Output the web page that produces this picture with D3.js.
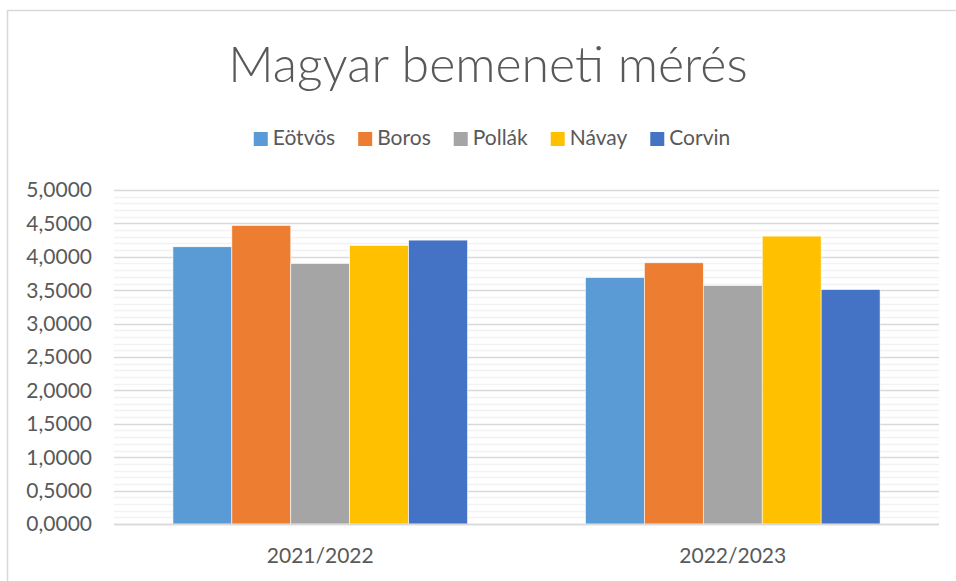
<!DOCTYPE html>
<html><head><meta charset="utf-8">
<script src="https://cdn.jsdelivr.net/npm/d3@7"></script>
<style>body{margin:0;background:#fff}svg{display:block}text{font-family:Lato,"Open Sans",sans-serif}</style>
</head><body><svg id="c" width="956" height="581"></svg>
<script>
const title = "Magyar bemeneti mérés";
const categories = ["2021/2022", "2022/2023"];
const seriesNames = ["Eötvös", "Boros", "Pollák", "Návay", "Corvin"];
const seriesColors = ["#5b9bd5", "#ed7d31", "#a5a5a5", "#ffc000", "#4472c4"];
const values = {
  "Eötvös": [4.15, 3.69],
  "Boros":  [4.47, 3.91],
  "Pollák": [3.90, 3.57],
  "Návay":  [4.17, 4.31],
  "Corvin": [4.25, 3.51]
};
const yTicks = [0, 0.5, 1, 1.5, 2, 2.5, 3, 3.5, 4, 4.5, 5];

const svg = d3.select("#c");
const M = {left: 114, right: 939, top: 190, bottom: 524};
svg.append("rect").attr("x", 7.5).attr("y", 10.5).attr("width", 970).attr("height", 600)
  .attr("fill", "none").attr("stroke", "#d9d9d9").attr("stroke-width", 1.5);

const y = d3.scaleLinear().domain([0, 5]).range([M.bottom, M.top]);
const x0 = d3.scaleBand().domain(categories).range([M.left, M.right]).paddingInner(2/7).paddingOuter(1/7);
const x1 = d3.scaleBand().domain(seriesNames).range([0, x0.bandwidth()]);

// minor gridlines
const minor = d3.range(0, 51).map(d => d / 10).filter(d => Math.round(d * 10) % 5 !== 0);
svg.append("g").selectAll("line").data(minor).join("line")
  .attr("x1", M.left).attr("x2", M.right)
  .attr("y1", d => Math.round(y(d)) + 0.5).attr("y2", d => Math.round(y(d)) + 0.5)
  .attr("stroke", "#f2f2f2").attr("stroke-width", 1.5);
// major gridlines
svg.append("g").selectAll("line").data(yTicks).join("line")
  .attr("x1", M.left).attr("x2", M.right)
  .attr("y1", d => Math.round(y(d)) + 0.5).attr("y2", d => Math.round(y(d)) + 0.5)
  .attr("stroke", "#d9d9d9").attr("stroke-width", 1.5);

// bars
const g = svg.append("g");
categories.forEach((c, ci) => {
  g.append("g").attr("transform", `translate(${x0(c)},0)`)
    .selectAll("rect").data(seriesNames).join("rect")
    .attr("x", s => x1(s)).attr("width", x1.bandwidth())
    .attr("y", s => y(values[s][ci])).attr("height", s => y(0) - y(values[s][ci]))
    .attr("fill", (s, i) => seriesColors[i])
    .attr("stroke", "#fff").attr("stroke-width", 0.6);
});
// baseline
svg.append("line").attr("x1", M.left).attr("x2", M.right)
  .attr("y1", y(0) + 0.5).attr("y2", y(0) + 0.5).attr("stroke", "#d9d9d9").attr("stroke-width", 1.5);

// y axis labels
const fmt = d => d.toFixed(4).replace(".", ",");
svg.append("g").selectAll("text").data(yTicks).join("text")
  .attr("x", 92).attr("y", d => y(d)).attr("dy", "0.35em")
  .attr("text-anchor", "end").attr("font-size", 21).attr("fill", "#595959")
  .text(fmt);

// x axis labels
svg.append("g").selectAll("text").data(categories).join("text")
  .attr("x", d => x0(d) + x0.bandwidth() / 2).attr("y", 563)
  .attr("text-anchor", "middle").attr("font-size", 21).attr("fill", "#595959")
  .text(d => d);

// title
svg.append("text").attr("x", 488).attr("y", 82).attr("text-anchor", "middle")
  .attr("font-size", 50).attr("font-weight", 300).attr("fill", "#595959").text(title);

// legend
const lg = svg.append("g");
let cx = 0;
seriesNames.forEach((s, i) => {
  const it = lg.append("g");
  it.append("rect").attr("x", 0).attr("y", 132).attr("width", 14).attr("height", 14).attr("fill", seriesColors[i]);
  const t = it.append("text").attr("x", 19).attr("y", 145).attr("font-size", 21).attr("fill", "#595959").text(s);
  const w = 19 + t.node().getComputedTextLength();
  it.attr("transform", `translate(${cx},0)`);
  cx += w + 23;
});
const total = cx - 23;
lg.attr("transform", `translate(${492 - total / 2},0)`);
</script></body></html>
